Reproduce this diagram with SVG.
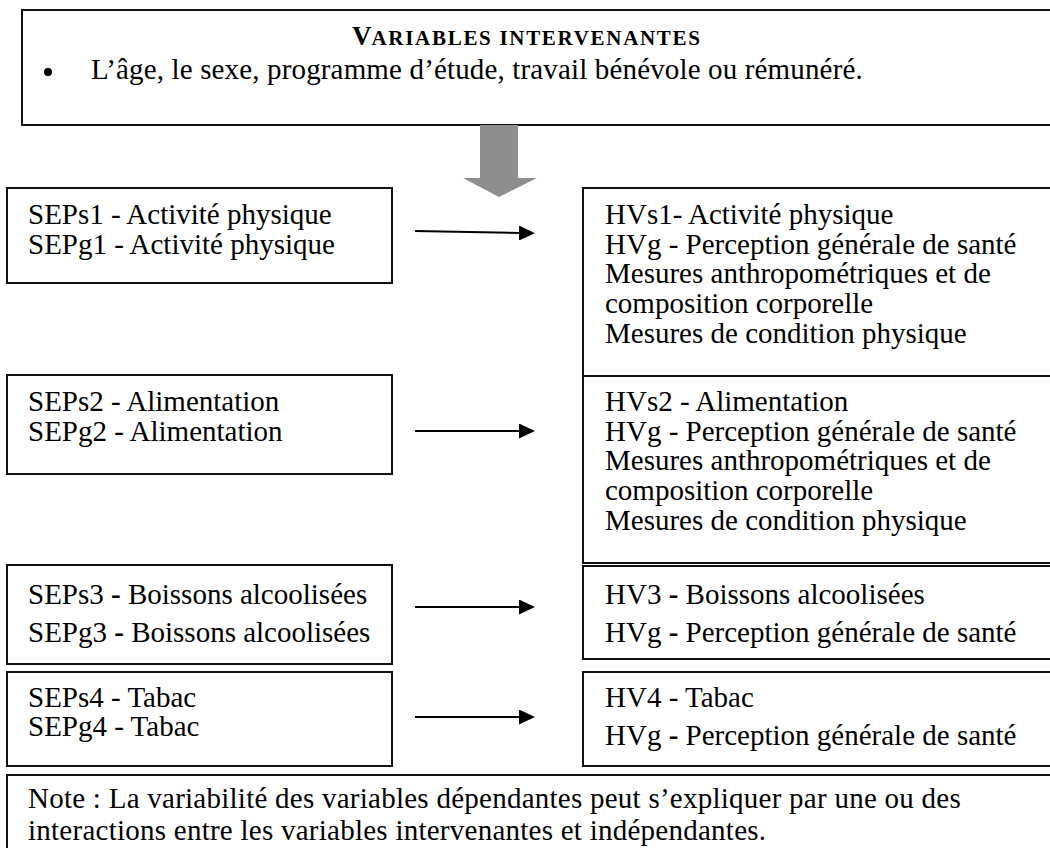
<svg xmlns="http://www.w3.org/2000/svg" width="1050" height="848" viewBox="0 0 1050 848">
<style>
.box{fill:#fff;stroke:#111;stroke-width:2}
.t{font-family:"Liberation Serif","Times New Roman",serif;font-size:29px;fill:#000}
.b{font-weight:bold}
.conn{stroke:#000;stroke-width:2;fill:none}
</style>
<defs>
<marker id="ah" markerUnits="userSpaceOnUse" markerWidth="16" markerHeight="15" refX="0" refY="7.5" orient="auto">
<path d="M0,0 L16,7.5 L0,15 Z" fill="#000"/>
</marker>
</defs>
<rect width="1050" height="848" fill="#fff"/>

<g id="intervenantes">
<rect class="box" x="22" y="10" width="1040" height="115"/>
<text class="t b" x="352" y="45"><tspan font-size="27">V</tspan><tspan font-size="21" letter-spacing="1.7">ARIABLES INTERVENANTES</tspan></text>
<circle cx="48" cy="72" r="4" fill="#000"/>
<text class="t" x="91" y="79" letter-spacing="0.15">L’âge, le sexe, programme d’étude, travail bénévole ou rémunéré.</text>
</g>

<g id="big-arrow">
<polygon points="480,125 518,125 518,178 537,178 499,197 463,178 480,178" fill="#8e8e8e"/>
</g>

<g id="sep1">
<rect class="box" x="7" y="188" width="385" height="95"/>
<text class="t" x="28" y="224">SEPs1 - Activité physique</text>
<text class="t" x="28" y="254">SEPg1 - Activité physique</text>
</g>
<g id="sep2">
<rect class="box" x="7" y="375" width="385" height="99"/>
<text class="t" x="28" y="411">SEPs2 - Alimentation</text>
<text class="t" x="28" y="441">SEPg2 - Alimentation</text>
</g>
<g id="sep3">
<rect class="box" x="7" y="565" width="385" height="99"/>
<text class="t" x="28" y="604">SEPs3 <tspan class="b">-</tspan> Boissons alcoolisées</text>
<text class="t" x="28" y="642">SEPg3 <tspan class="b">-</tspan> Boissons alcoolisées</text>
</g>
<g id="sep4">
<rect class="box" x="7" y="672" width="385" height="94"/>
<text class="t" x="28" y="707">SEPs4 - Tabac</text>
<text class="t" x="28" y="736">SEPg4 - Tabac</text>
</g>

<g id="hv1">
<rect class="box" x="583" y="188" width="480" height="188"/>
<text class="t" x="605" y="224">HVs1- Activité physique</text>
<text class="t" x="605" y="254">HVg - Perception générale de santé</text>
<text class="t" x="605" y="283">Mesures anthropométriques et de</text>
<text class="t" x="605" y="313">composition corporelle</text>
<text class="t" x="605" y="343">Mesures de condition physique</text>
</g>
<g id="hv2">
<rect class="box" x="583" y="376" width="480" height="187"/>
<text class="t" x="605" y="411">HVs2 - Alimentation</text>
<text class="t" x="605" y="441">HVg - Perception générale de santé</text>
<text class="t" x="605" y="470">Mesures anthropométriques et de</text>
<text class="t" x="605" y="500">composition corporelle</text>
<text class="t" x="605" y="530">Mesures de condition physique</text>
</g>
<g id="hv3">
<rect class="box" x="583" y="566" width="480" height="93"/>
<text class="t" x="605" y="604">HV3 <tspan class="b">-</tspan> Boissons alcoolisées</text>
<text class="t" x="605" y="642">HVg <tspan class="b">-</tspan> Perception générale de santé</text>
</g>
<g id="hv4">
<rect class="box" x="583" y="672" width="480" height="94"/>
<text class="t" x="605" y="707">HV4 - Tabac</text>
<text class="t" x="605" y="745">HVg <tspan class="b">-</tspan> Perception générale de santé</text>
</g>

<g id="note">
<rect class="box" x="7" y="775" width="1055" height="90"/>
<text class="t" x="28" y="808" letter-spacing="0.25">Note : La variabilité des variables dépendantes peut s’expliquer par une ou des</text>
<text class="t" x="28" y="840" letter-spacing="0.25">interactions entre les variables intervenantes et indépendantes.</text>
</g>

<g id="connectors">
<line class="conn" x1="415" y1="231" x2="519" y2="233" marker-end="url(#ah)"/>
<line class="conn" x1="415" y1="431" x2="519" y2="431" marker-end="url(#ah)"/>
<line class="conn" x1="415" y1="607" x2="519" y2="607" marker-end="url(#ah)"/>
<line class="conn" x1="415" y1="717" x2="519" y2="717" marker-end="url(#ah)"/>
</g>
</svg>
